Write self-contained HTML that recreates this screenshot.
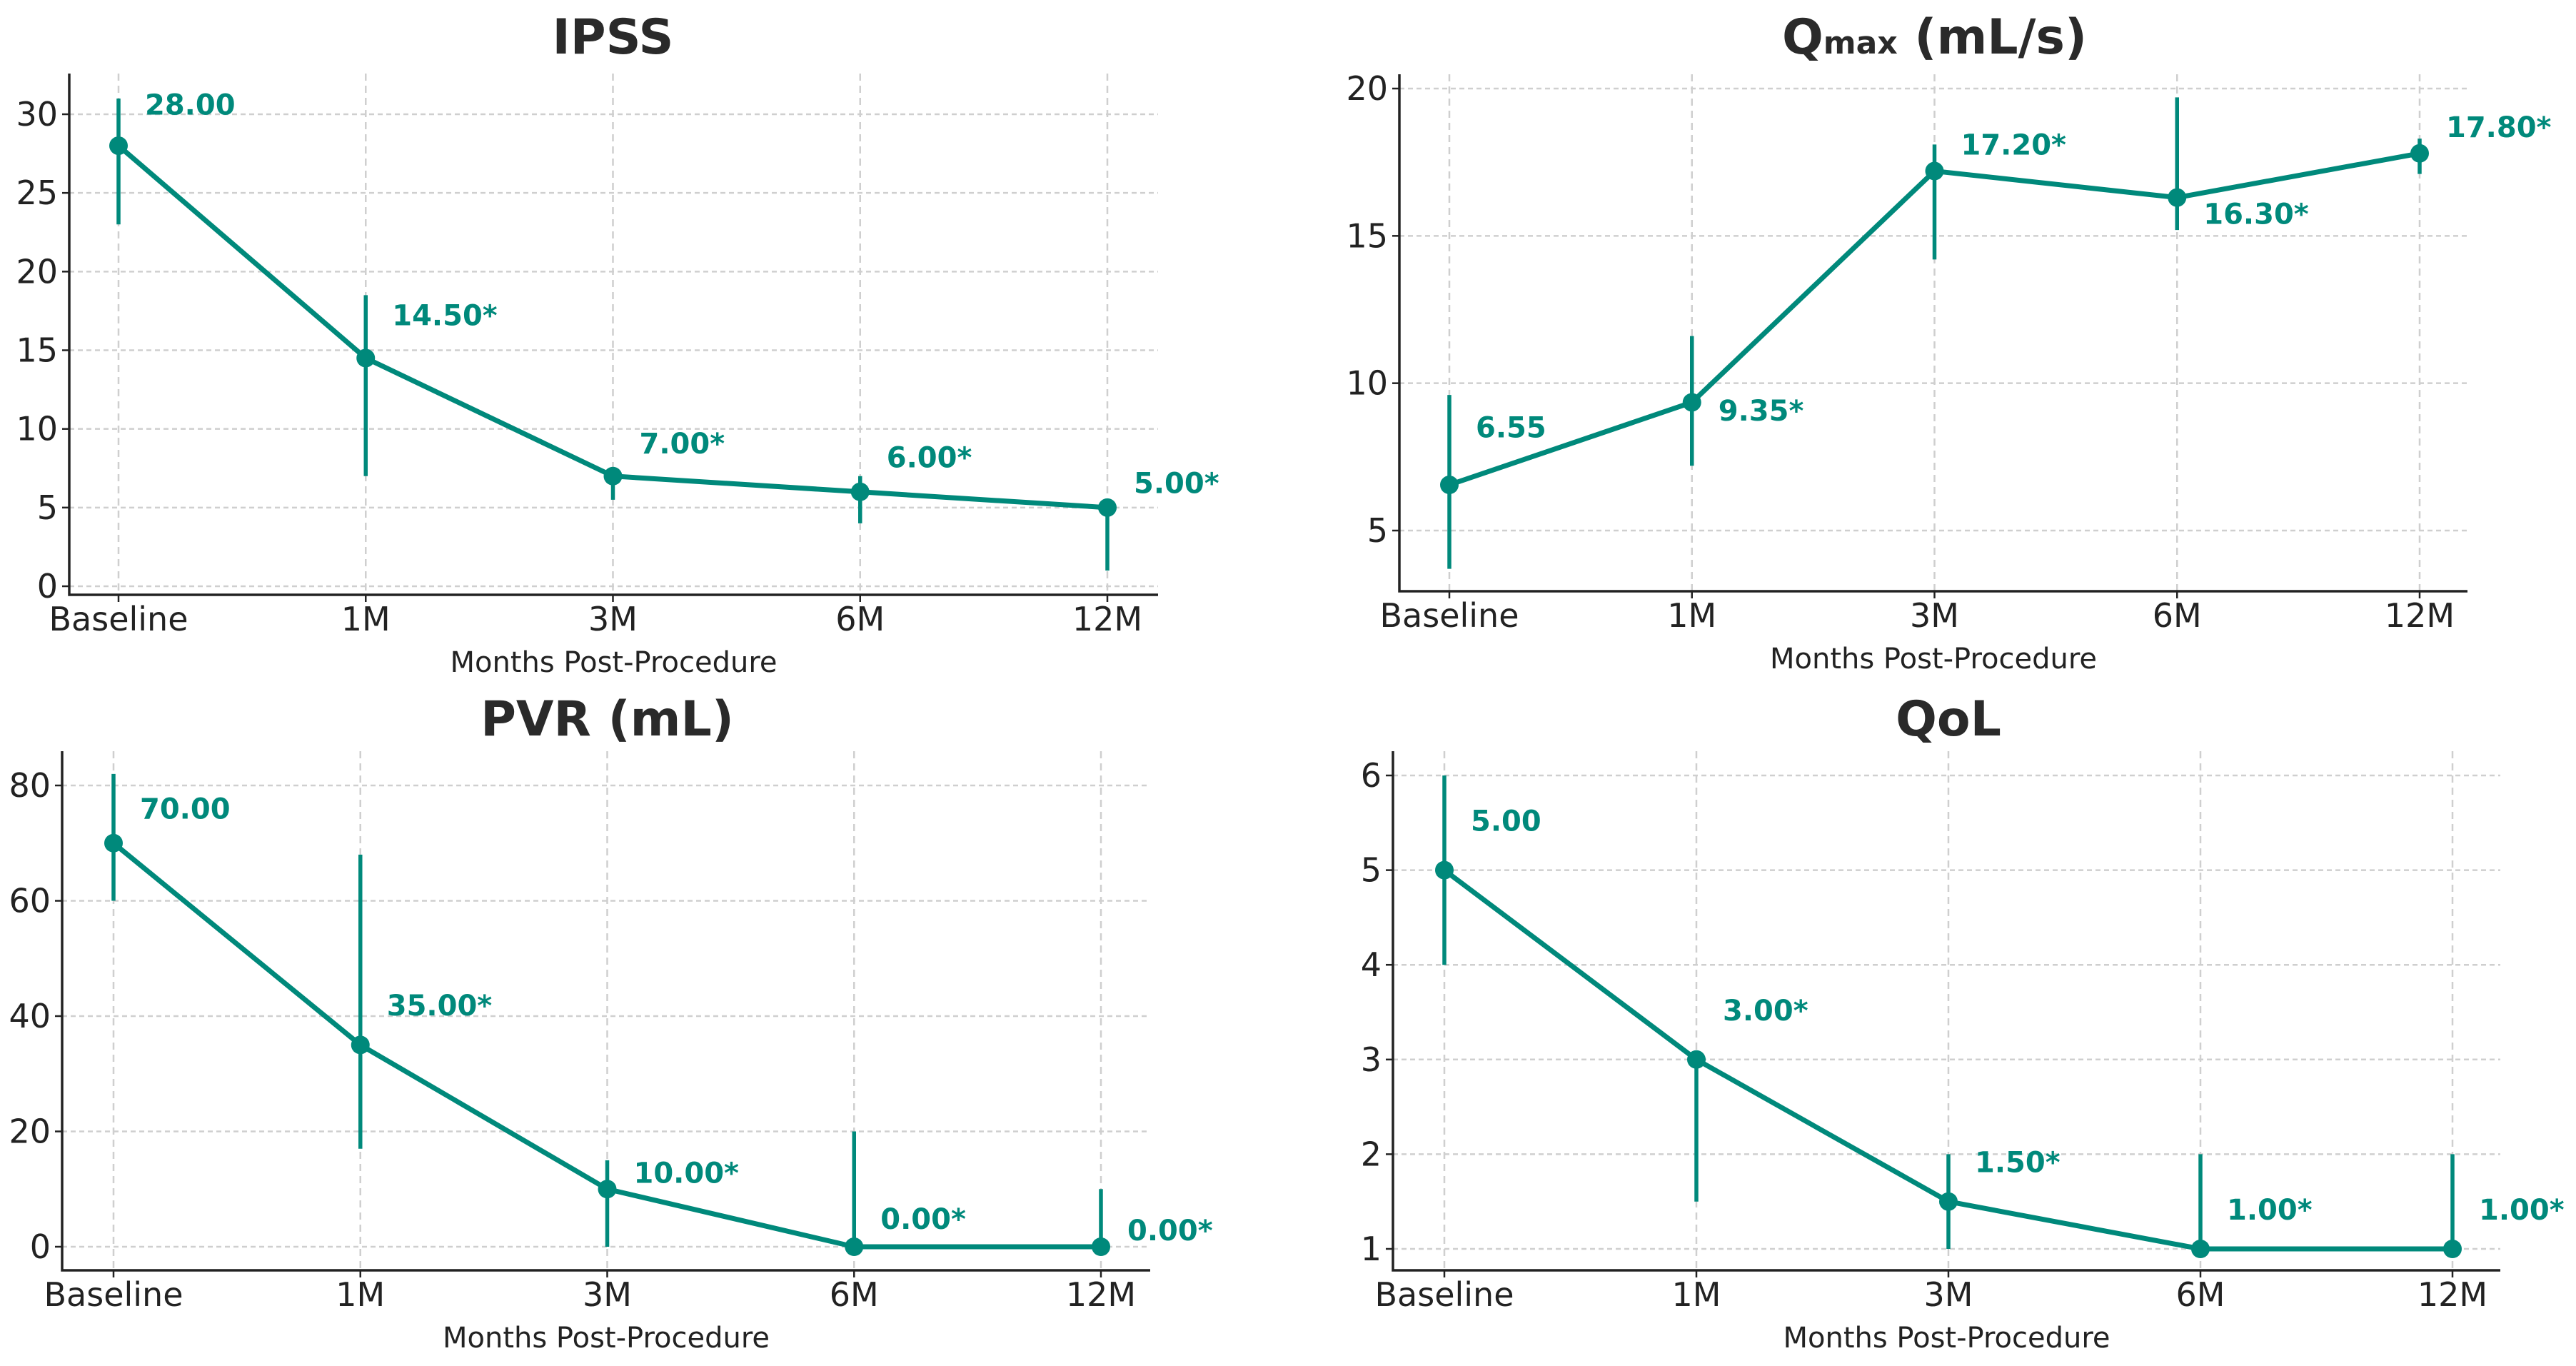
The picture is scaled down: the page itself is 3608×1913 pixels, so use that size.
<!DOCTYPE html>
<html><head><meta charset="utf-8"><style>
html,body{margin:0;padding:0;background:#fff;}
svg{display:block;font-family:"DejaVu Sans","Liberation Sans",sans-serif;}
</style></head><body>
<svg id="chart" width="3608" height="1913" viewBox="0 0 3608 1913" xmlns="http://www.w3.org/2000/svg"></svg>
<script>
const categories = ["Baseline","1M","3M","6M","12M"];
const ipssValues = [28, 14.5, 7, 6, 5];
const ipssLow = [23, 7, 5.5, 4, 1];
const ipssHigh = [31, 18.5, 7.5, 7, 5.5];
const ipssLabels = ["28.00","14.50*","7.00*","6.00*","5.00*"];
const ipssTicks = [0,5,10,15,20,25,30];
const qmaxValues = [6.55, 9.35, 17.2, 16.3, 17.8];
const qmaxLow = [3.7, 7.2, 14.2, 15.2, 17.1];
const qmaxHigh = [9.6, 11.6, 18.1, 19.7, 18.3];
const qmaxLabels = ["6.55","9.35*","17.20*","16.30*","17.80*"];
const qmaxTicks = [5,10,15,20];
const pvrValues = [70, 35, 10, 0, 0];
const pvrLow = [60, 17, 0, 0, 0];
const pvrHigh = [82, 68, 15, 20, 10];
const pvrLabels = ["70.00","35.00*","10.00*","0.00*","0.00*"];
const pvrTicks = [0,20,40,60,80];
const qolValues = [5, 3, 1.5, 1, 1];
const qolLow = [4, 1.5, 1, 1, 1];
const qolHigh = [6, 3, 2, 2, 2];
const qolLabels = ["5.00","3.00*","1.50*","1.00*","1.00*"];
const qolTicks = [1,2,3,4,5,6];

const NS="http://www.w3.org/2000/svg";
const svg=document.getElementById('chart');
const C="#00897b";
function mk(tag,attrs,parent,text){const e=document.createElementNS(NS,tag);for(const k in attrs)e.setAttribute(k,attrs[k]);if(text!==undefined)e.textContent=text;parent.appendChild(e);return e;}

function panel(cfg){
  const g=mk('g',{},svg);
  
  
  const xs=i=>cfg.x0+i*(cfg.x1-cfg.x0)/(categories.length-1);
  const ys=v=>cfg.yA+(v-cfg.vA)*(cfg.yB-cfg.yA)/(cfg.vB-cfg.vA);
  cfg.ticks.forEach(t=>{
    const l=mk('line',{x1:cfg.L,x2:cfg.R,y1:ys(t),y2:ys(t),stroke:'#cfcfcf','stroke-width':2.5,'stroke-dasharray':'7,5'},g);
    
    
    const tl=mk('line',{x1:cfg.L-10,x2:cfg.L,y1:ys(t),y2:ys(t),stroke:'#222','stroke-width':2.5},g);
    
    
    const tx=mk('text',{x:cfg.L-16,y:ys(t)+16,'font-size':46,'text-anchor':'end',fill:'#222'},g,String(t));
    
    
  });
  categories.forEach((c,i)=>{
    const l=mk('line',{x1:xs(i),x2:xs(i),y1:cfg.T,y2:cfg.B,stroke:'#cfcfcf','stroke-width':2.5,'stroke-dasharray':'10,7'},g);
    
    
    const tl=mk('line',{x1:xs(i),x2:xs(i),y1:cfg.B,y2:cfg.B+10,stroke:'#222','stroke-width':2.5},g);
    
    
    const tx=mk('text',{x:xs(i),y:cfg.B+50,'font-size':46,'text-anchor':'middle',fill:'#222'},g,c);
    
    
  });
  const ax=mk('path',{d:`M${cfg.L},${cfg.T} V${cfg.B} H${cfg.R}`,fill:'none',stroke:'#222','stroke-width':3.5},g);
  
  
  const xl=mk('text',{x:(cfg.L+cfg.R)/2,y:cfg.B+108,'font-size':40,'text-anchor':'middle',fill:'#222'},g,'Months Post-Procedure');
  
  
  const tt=mk('text',{x:(cfg.x0+cfg.x1)/2,y:cfg.titleY,'font-size':68,'font-weight':'bold','text-anchor':'middle',fill:'#2a2a2a'},g);
  
  
  if(cfg.sub){mk('tspan',{},tt,'Q');mk('tspan',{'font-size':44},tt,'max');mk('tspan',{},tt,' (mL/s)');}
  else tt.textContent=cfg.title;
  cfg.vals.forEach((v,i)=>{
    const e=mk('line',{x1:xs(i),x2:xs(i),y1:ys(cfg.lo[i]),y2:ys(cfg.hi[i]),stroke:C,'stroke-width':5.5},g);
    
    
  });
  const pl=mk('polyline',{points:cfg.vals.map((v,i)=>xs(i)+','+ys(v)).join(' '),fill:'none',stroke:C,'stroke-width':7,'stroke-linejoin':'round'},g);
  
  
  cfg.vals.forEach((v,i)=>{
    const p=mk('circle',{cx:xs(i),cy:ys(v),r:13,fill:C},g);
    
    
    const t=mk('text',{x:xs(i)+37,y:ys(v)+cfg.dy[i]*2.3+14,'font-size':40,'font-weight':'bold',fill:C},g,cfg.labels[i]);
    
    
  });
}

panel({name:'ipss',title:'IPSS',vals:ipssValues,lo:ipssLow,hi:ipssHigh,labels:ipssLabels,ticks:ipssTicks,dy:[-25,-26,-20,-21,-15],
  L:97,R:1622,T:103,B:833,x0:166,x1:1551,vA:0,yA:821,vB:30,yB:160,titleY:75});
panel({name:'qmax',sub:true,vals:qmaxValues,lo:qmaxLow,hi:qmaxHigh,labels:qmaxLabels,ticks:qmaxTicks,dy:[-35,5,-16,10,-16],
  L:1960,R:3456,T:104,B:828,x0:2030,x1:3389,vA:5,yA:743,vB:20,yB:124,titleY:75});
panel({name:'pvr',title:'PVR (mL)',vals:pvrValues,lo:pvrLow,hi:pvrHigh,labels:pvrLabels,ticks:pvrTicks,dy:[-21,-24,-10,-17,-10],
  L:87,R:1611,T:1052,B:1779,x0:159,x1:1542,vA:0,yA:1746,vB:80,yB:1100,titleY:1030});
panel({name:'qol',title:'QoL',vals:qolValues,lo:qolLow,hi:qolHigh,labels:qolLabels,ticks:qolTicks,dy:[-30,-30,-24,-24,-24],
  L:1951,R:3502,T:1052,B:1779,x0:2023,x1:3435,vA:1,yA:1749,vB:6,yB:1086,titleY:1030});
</script>
</body></html>
